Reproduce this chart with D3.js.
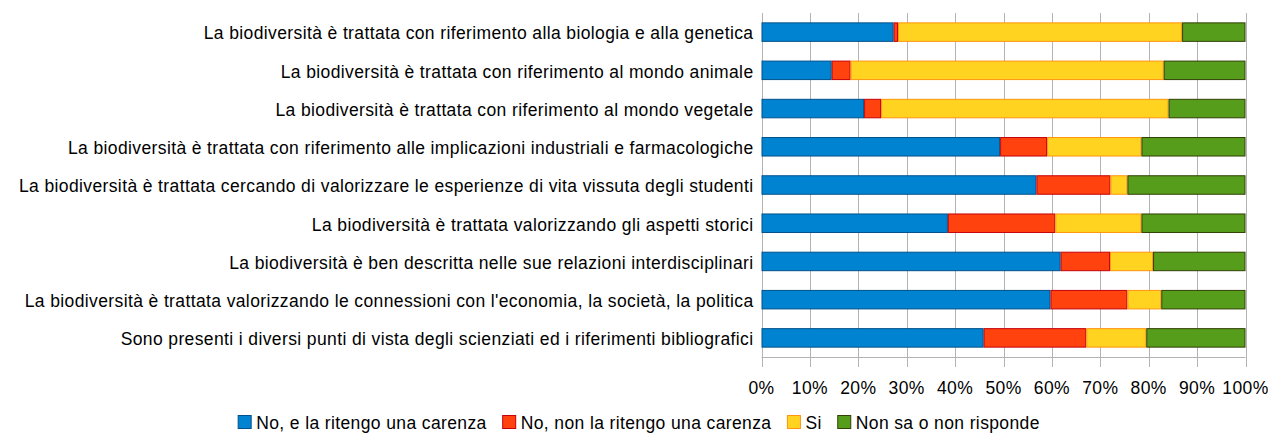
<!DOCTYPE html>
<html>
<head>
<meta charset="utf-8">
<script src="https://cdn.jsdelivr.net/npm/d3@7"></script>
<style>
  body { margin: 0; background: #fff; }
  text { font-family: "Liberation Sans", Arial, sans-serif; fill: #000; font-size: 17.5px; letter-spacing: 0.38px; }
</style>
</head>
<body>
<svg id="chart" width="1268" height="435"></svg>
<script>
const width = 1268;
const height = 435;

// categories, top to bottom
const categories = [
  "La biodiversità è trattata con riferimento alla biologia e alla genetica",
  "La biodiversità è trattata con riferimento al mondo animale",
  "La biodiversità è trattata con riferimento al mondo vegetale",
  "La biodiversità è trattata con riferimento alle implicazioni industriali e farmacologiche",
  "La biodiversità è trattata cercando di valorizzare le esperienze di vita vissuta degli studenti",
  "La biodiversità è trattata valorizzando gli aspetti storici",
  "La biodiversità è ben descritta nelle sue relazioni interdisciplinari",
  "La biodiversità è trattata valorizzando le connessioni con l'economia, la società, la politica",
  "Sono presenti i diversi punti di vista degli scienziati ed i riferimenti bibliografici",
];

const seriesNames = [
  "No, e la ritengo una carenza",
  "No, non la ritengo una carenza",
  "Si",
  "Non sa o non risponde",
];

// percentages per series, same order as categories
const noCarenza = [27.3, 14.5, 21.2, 49.3, 56.8, 38.5, 61.8, 59.7, 45.9];
const noNonCarenza = [0.9, 3.9, 3.5, 9.7, 15.3, 22.2, 10.2, 15.9, 21.2];
const si = [58.7, 64.7, 59.4, 19.5, 3.5, 17.8, 8.9, 7.0, 12.4];
const nonSa = [13.1, 16.9, 15.9, 21.5, 24.4, 21.5, 19.1, 17.4, 20.5];

const tickValues = [0, 10, 20, 30, 40, 50, 60, 70, 80, 90, 100];

const colors = ["#0084d1", "#ff420e", "#ffd320", "#579d1c"];
const strokes = ["#00508a", "#c5000b", "#ff950e", "#314004"];

const table = categories.map((c, i) => ({
  cat: c,
  s0: noCarenza[i],
  s1: noNonCarenza[i],
  s2: si[i],
  s3: nonSa[i],
}));

const keys = ["s0", "s1", "s2", "s3"];
const stacked = d3.stack().keys(keys)(table);

const margin = { top: 13, left: 761.5, right: 22.5, bottom: 78 };

const x = d3
  .scaleLinear()
  .domain([0, 100])
  .range([margin.left, width - margin.right]);

const y = d3
  .scaleBand()
  .domain(categories)
  .range([margin.top, height - margin.bottom])
  .paddingInner(0.49)
  .paddingOuter(0.245);

const svg = d3.select("#chart");

const axisY = height - margin.bottom;

// grid lines + ticks below the axis
svg
  .append("g")
  .attr("class", "grid")
  .selectAll("line")
  .data(tickValues)
  .join("line")
  .attr("x1", (d) => Math.round(x(d)) + 0.5)
  .attr("x2", (d) => Math.round(x(d)) + 0.5)
  .attr("y1", margin.top)
  .attr("y2", axisY + 10)
  .attr("stroke", "#b3b3b3")
  .attr("stroke-width", 1);

// bottom axis line
svg
  .append("line")
  .attr("x1", x(0))
  .attr("x2", x(100))
  .attr("y1", Math.round(axisY) + 0.5)
  .attr("y2", Math.round(axisY) + 0.5)
  .attr("stroke", "#b3b3b3");

// bars
const layers = svg
  .append("g")
  .attr("class", "bars")
  .selectAll("g")
  .data(stacked)
  .join("g")
  .attr("fill", (d, i) => colors[i])
  .attr("stroke", (d, i) => strokes[i])
  .attr("stroke-width", 1);

layers
  .selectAll("rect")
  .data((d) => d)
  .join("rect")
  .attr("x", (d) => x(d[0]) + 0.5)
  .attr("y", (d) => y(d.data.cat) + 0.5)
  .attr("width", (d) => Math.max(0, x(d[1]) - x(d[0]) - 1))
  .attr("height", y.bandwidth() - 1);

// category labels
svg
  .append("g")
  .attr("class", "labels")
  .selectAll("text")
  .data(categories)
  .join("text")
  .attr("x", margin.left - 8)
  .attr("y", (d) => y(d) + y.bandwidth() / 2)
  .attr("dy", "0.42em")
  .attr("text-anchor", "end")
  .text((d) => d);

// tick labels
svg
  .append("g")
  .attr("class", "ticks")
  .selectAll("text")
  .data(tickValues)
  .join("text")
  .attr("x", (d) => x(d))
  .attr("y", axisY + 31)
  .attr("dy", "0.35em")
  .attr("text-anchor", "middle")
  .text((d) => d + "%");

// legend
const legend = svg.append("g").attr("class", "legend");
const items = legend
  .selectAll("g")
  .data(seriesNames)
  .join("g");

items
  .append("rect")
  .attr("width", 13)
  .attr("height", 13)
  .attr("y", 415.5)
  .attr("fill", (d, i) => colors[i])
  .attr("stroke", (d, i) => strokes[i]);

items
  .append("text")
  .attr("x", 18)
  .attr("y", 423)
  .attr("dy", "0.35em")
  .text((d) => d);

let offsets = [];
let pos = 0;
items.each(function () {
  const w = d3.select(this).select("text").node().getComputedTextLength();
  offsets.push(pos);
  pos += 18 + w + 16;
});
const total = pos - 16;
const startX = 639 - total / 2;
items.attr("transform", (d, i) => `translate(${startX + offsets[i]}, 0)`);
</script>
</body>
</html>
